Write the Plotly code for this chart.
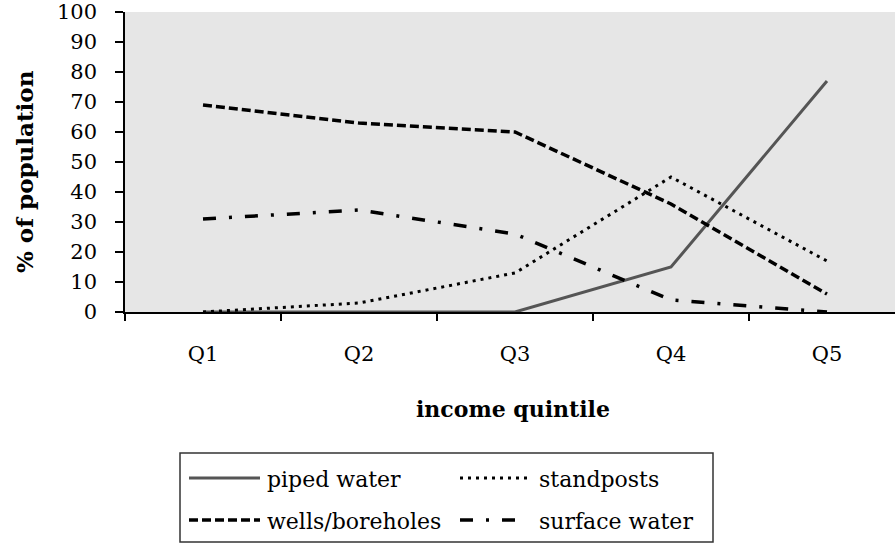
import plotly.graph_objects as go

categories = ["Q1", "Q2", "Q3", "Q4", "Q5"]
piped_water = [0, 0, 0, 15, 77]
standposts = [0, 3, 13, 45, 17]
wells_boreholes = [69, 63, 60, 36, 6]
surface_water = [31, 34, 26, 4, 0]

series_names = ["piped water", "standposts", "wells/boreholes", "surface water"]
series_values = [piped_water, standposts, wells_boreholes, surface_water]
styles = [
    dict(color="#555555", width=3, dash="solid"),
    dict(color="#000000", width=3, dash="3px,5px"),
    dict(color="#000000", width=3.5, dash="9px,4px"),
    dict(color="#000000", width=3.5, dash="13px,13px,3px,13px"),
]

W, H = 895, 546
L, T, PH = 125, 12, 300
B = H - T - PH
R = 0
PW = W - L - R
FONT = "DejaVu Serif"

def px(x):
    return (x - L) / PW

def py(y):
    return (H - B - y) / PH

fig = go.Figure()
for name, vals, st in zip(series_names, series_values, styles):
    fig.add_trace(go.Scatter(x=categories, y=vals, mode="lines", name=name,
                             line=st, showlegend=False))

fig.update_layout(
    width=W, height=H,
    margin=dict(l=L, r=R, t=T, b=B),
    paper_bgcolor="white",
    plot_bgcolor="#e6e6e6",
    font=dict(family=FONT, color="black", size=21),
    showlegend=False,
)
fig.update_xaxes(
    type="category", range=[-0.5, 4.436], tickson="boundaries",
    showline=True, linecolor="black", linewidth=1.5,
    ticks="outside", ticklen=7, tickcolor="black", tickwidth=1.5,
    showgrid=False, zeroline=False, ticklabelstandoff=22,
    tickfont=dict(size=21, family=FONT),
)
fig.update_yaxes(
    range=[0, 100], tickvals=list(range(0, 101, 10)),
    showline=True, linecolor="black", linewidth=1.5,
    ticks="outside", ticklen=8, tickcolor="black", tickwidth=1.5,
    showgrid=False, zeroline=False, ticklabelstandoff=14,
    ticklabeloverflow="allow",
    tickfont=dict(size=21, family=FONT),
)

# axis titles
fig.add_annotation(text="<b>income quintile</b>", x=px(513), y=py(409),
                   xref="paper", yref="paper", showarrow=False,
                   xanchor="center", yanchor="middle",
                   font=dict(size=22, family=FONT))
fig.add_annotation(text="<b>% of population</b>", x=px(24), y=py(172),
                   xref="paper", yref="paper", showarrow=False, textangle=-90,
                   xanchor="center", yanchor="middle",
                   font=dict(size=23, family=FONT))

# legend box
fig.add_shape(type="rect", xref="paper", yref="paper",
              x0=px(180), x1=px(713), y0=py(453), y1=py(542),
              line=dict(color="#333333", width=1.5), fillcolor="white")
positions = [(189, 260, 265, 479), (460, 528, 537, 479),
             (189, 260, 265, 521), (460, 528, 537, 521)]
for name, st, (sx0, sx1, tx, ty) in zip(series_names, styles, positions):
    fig.add_shape(type="line", xref="paper", yref="paper",
                  x0=px(sx0), x1=px(sx1), y0=py(ty - 1), y1=py(ty - 1),
                  line=st)
    fig.add_annotation(text=name, x=px(tx), y=py(ty), xref="paper", yref="paper",
                       showarrow=False, xanchor="left", yanchor="middle",
                       font=dict(size=22, family=FONT))

fig.write_html("out.html",
               config={"displayModeBar": False},
               post_script="document.body.style.margin='0px';document.body.style.overflow='hidden';")
